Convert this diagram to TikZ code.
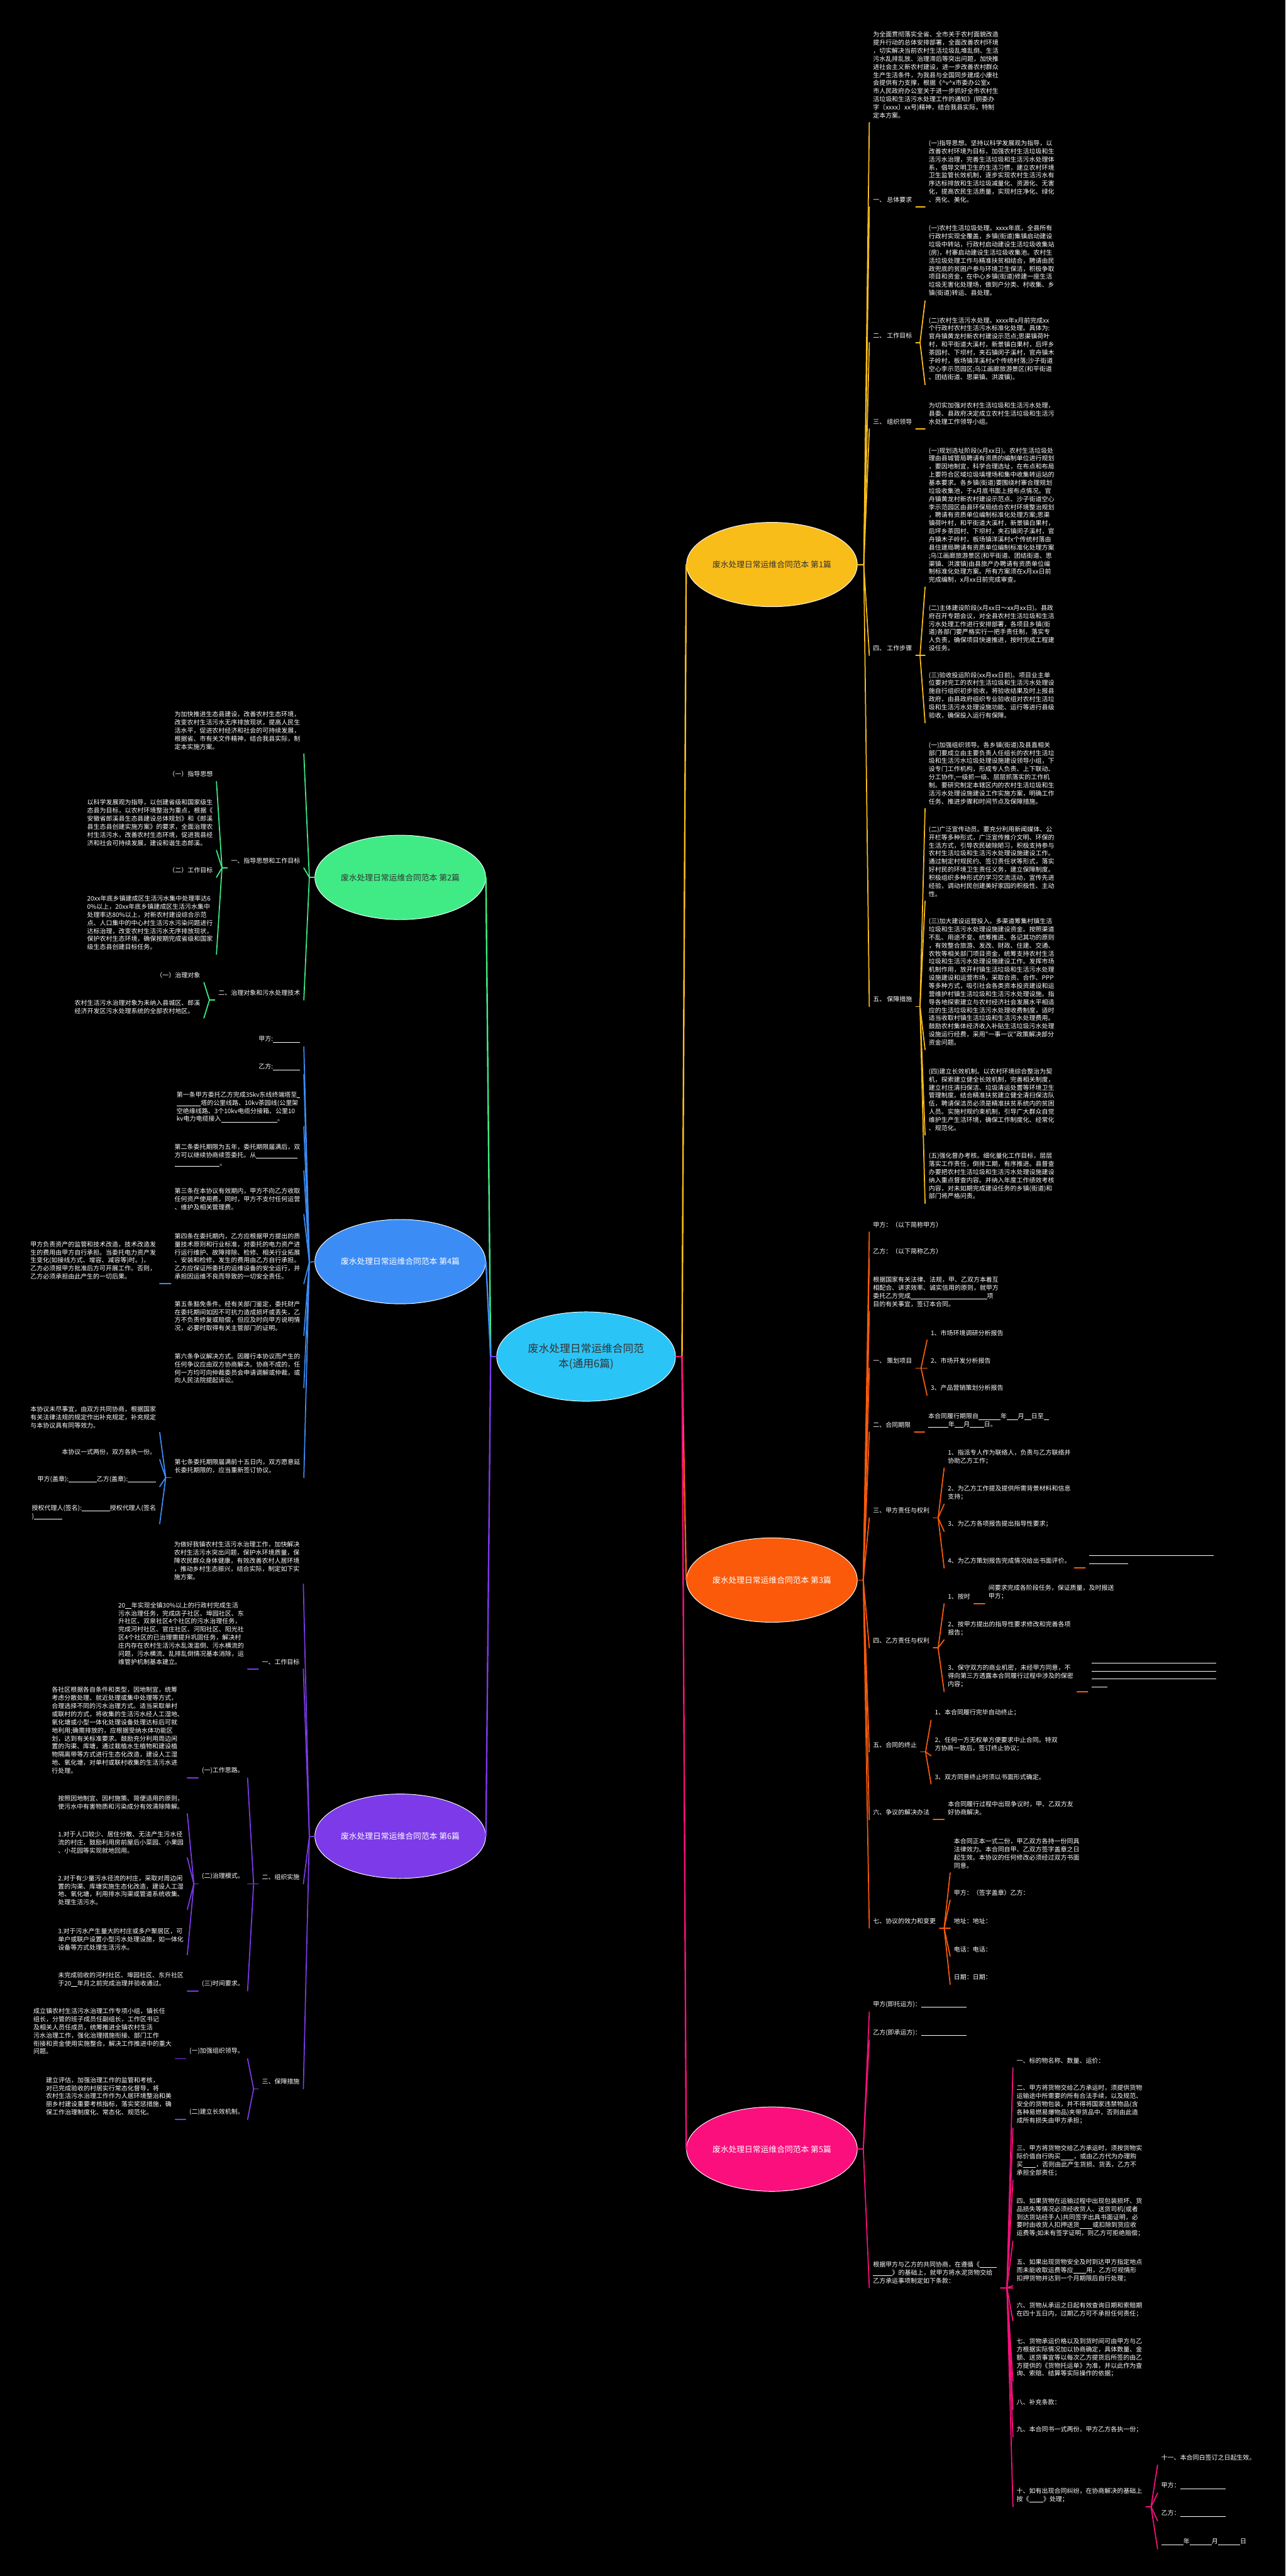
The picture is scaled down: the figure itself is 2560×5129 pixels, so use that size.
\documentclass[tikz,border=0pt]{standalone}
\usepackage{fontspec}
\newfontfamily\cjk{Noto Sans CJK SC}
\usetikzlibrary{shapes.geometric}
\definecolor{cY}{HTML}{F9BD1A}
\definecolor{cO}{HTML}{FA5A0A}
\definecolor{cP}{HTML}{FA0F7D}
\definecolor{cG}{HTML}{40EB85}
\definecolor{cB}{HTML}{3C8CF5}
\definecolor{cV}{HTML}{7C3AE8}
\definecolor{cC}{HTML}{2BC4F7}
\definecolor{dk}{HTML}{333333}
\newcommand\blk[1]{\rule[-1pt]{#1}{0.45pt}}
\tikzset{
 tx/.style={font=\cjk\fontsize{6.25}{8.05}\selectfont, text=white, align=left, inner xsep=3.5pt, inner ysep=4pt},
 bub/.style={ellipse, draw=white, line width=0.6pt, minimum width=170pt, minimum height=84pt, inner sep=0pt, font=\cjk\fontsize{8}{10}\selectfont, align=center},
 ln/.style={line width=1.1pt, line cap=round},
 lnY/.style={ln, draw=cY}, lnO/.style={ln, draw=cO}, lnP/.style={ln, draw=cP},
 lnG/.style={ln, draw=cG}, lnB/.style={ln, draw=cB}, lnV/.style={ln, draw=cV},
}
\begin{document}
\begin{tikzpicture}[x=0.5pt,y=-0.5pt]
\fill[black] (0,0) rectangle (2560,5129);
\useasboundingbox (0,0) rectangle (2560,5129);

% ---------------- center and branches ----------------
\node[ellipse, fill=cC, draw=white, line width=0.6pt, minimum width=178pt, minimum height=89pt, inner sep=0pt, font=\cjk\fontsize{10.5}{15}\selectfont, text=dk, align=center] (ctr) at (1167,2701) {废水处理日常运维合同范\\本(通用6篇)};
\node[bub, fill=cY, text=dk] (b1) at (1537,1124) {废水处理日常运维合同范本 第1篇};
\node[bub, fill=cO, text=white] (b3) at (1537,3146) {废水处理日常运维合同范本 第3篇};
\node[bub, fill=cP, text=white] (b5) at (1537,4279) {废水处理日常运维合同范本 第5篇};
\node[bub, fill=cG, text=dk] (b2) at (797,1747) {废水处理日常运维合同范本 第2篇};
\node[bub, fill=cB, text=white] (b4) at (797,2512) {废水处理日常运维合同范本 第4篇};
\node[bub, fill=cV, text=white] (b6) at (797,3656) {废水处理日常运维合同范本 第6篇};

\coordinate (cR) at (1358,2701);
\coordinate (cL) at (977,2701);
\draw[ln, line width=1.5pt, draw=cP] (ctr.east) -- (cR);
\draw[ln, line width=1.5pt, draw=cV] (ctr.west) -- (cL);
\draw[ln, line width=1.5pt, draw=cY] (cR) -- (b1.west);
\draw[ln, line width=1.5pt, draw=cO] (cR) -- (b3.west);
\draw[ln, line width=1.5pt, draw=cP] (cR) -- (b5.west);
\draw[ln, line width=1.5pt, draw=cG] (cL) -- (b2.east);
\draw[ln, line width=1.5pt, draw=cB] (cL) -- (b4.east);
\draw[ln, line width=1.5pt, draw=cV] (cL) -- (b6.east);

% ================= Branch 1 (yellow) =================
\coordinate (b1f) at (1720,1124);
\draw[lnY] (b1.east) -- (b1f);
\node[tx,anchor=south west] (b1c0) at (1731,244) {为全面贯彻落实全省、全市关于农村面貌改造\\提升行动的总体安排部署，全面改善农村环境\\，切实解决当前农村生活垃圾乱堆乱倒、生活\\污水乱排乱放、治理滞后等突出问题，加快推\\进社会主义新农村建设，进一步改善农村群众\\生产生活条件，为我县与全国同步建成小康社\\会提供有力支撑，根据《\textasciicircum v\textasciicircum x市委办公室x\\市人民政府办公室关于进一步抓好全市农村生\\活垃圾和生活污水处理工作的通知》(铜委办\\字〔xxxx〕xx号)精神，结合我县实际，特制\\定本方案。};
\draw[lnY] (b1f) -- (b1c0.south west);

\node[tx,anchor=south west] (b1c1) at (1731,412) {一、 总体要求};
\draw[lnY] (b1f) -- (b1c1.south west);
\coordinate (b1c1f) at (1842,412);
\draw[lnY] (b1c1.south east) -- (b1c1f);
\node[tx,anchor=south west] (b1c1a) at (b1c1f) {(一)指导思想。坚持以科学发展观为指导，以\\改善农村环境为目标，加强农村生活垃圾和生\\活污水治理，完善生活垃圾和生活污水处理体\\系，倡导文明卫生的生活习惯，建立农村环境\\卫生监管长效机制，逐步实现农村生活污水有\\序达标排放和生活垃圾减量化、资源化、无害\\化，提高农民生活质量，实现村庄净化、绿化\\、亮化、美化。};

\node[tx,anchor=south west] (b1c2) at (1731,682) {二、 工作目标};
\draw[lnY] (b1f) -- (b1c2.south west);
\coordinate (b1c2f) at (1832,682);
\draw[lnY] (b1c2.south east) -- (b1c2f);
\node[tx,anchor=south west] (b1c2a) at (1842,599) {(一)农村生活垃圾处理。xxxx年底，全县所有\\行政村实现全覆盖，乡镇(街道)集镇启动建设\\垃圾中转站，行政村启动建设生活垃圾收集站\\(房)，村寨启动建设生活垃圾收集池。农村生\\活垃圾处理工作与精准扶贫相结合，聘请由民\\政兜底的贫困户参与环境卫生保洁，积极争取\\项目和资金，在中心乡镇(街道)修建一座生活\\垃圾无害化处理场，做到户分类、村收集、乡\\镇(街道)转运、县处理。};
\node[tx,anchor=south west] (b1c2b) at (1842,766) {(二)农村生活污水处理。xxxx年x月前完成xx\\个行政村农村生活污水标准化处理。具体为:\\官舟镇黄龙村新农村建设示范点;思渠镇荷叶\\村，和平街道大溪村，新景镇白果村，后坪乡\\茶园村、下坝村，夹石镇闵子溪村，官舟镇木\\子岭村，板场镇洋溪村x个传统村落;沙子街道\\空心李示范园区;乌江画廊旅游景区(和平街道\\、团结街道、思渠镇、洪渡镇)。};
\draw[lnY] (b1c2f) -- (b1c2a.south west);
\draw[lnY] (b1c2f) -- (b1c2b.south west);

\node[tx,anchor=south west] (b1c3) at (1731,854) {三、 组织领导};
\draw[lnY] (b1f) -- (b1c3.south west);
\coordinate (b1c3f) at (1842,854);
\draw[lnY] (b1c3.south east) -- (b1c3f);
\node[tx,anchor=south west] (b1c3a) at (b1c3f) {为切实加强对农村生活垃圾和生活污水处理，\\县委、县政府决定成立农村生活垃圾和生活污\\水处理工作领导小组。};

\node[tx,anchor=south west] (b1c4) at (1731,1305) {四、 工作步骤};
\draw[lnY] (b1f) -- (b1c4.south west);
\coordinate (b1c4f) at (1832,1305);
\draw[lnY] (b1c4.south east) -- (b1c4f);
\node[tx,anchor=south west] (b1c4a) at (1842,1169) {(一)规划选址阶段(x月xx日)。农村生活垃圾处\\理由县城管局聘请有资质的编制单位进行规划\\，要因地制宜，科学合理选址，在布点和布局\\上要符合区域垃圾填埋场和集中收集转运站的\\基本要求。各乡镇(街道)要围绕村寨合理规划\\垃圾收集池，于x月底书面上报布点情况。官\\舟镇黄龙村新农村建设示范点、沙子街道空心\\李示范园区由县环保局结合农村环境整治规划\\，聘请有资质单位编制标准化处理方案;思渠\\镇荷叶村，和平街道大溪村，新景镇白果村，\\后坪乡茶园村、下坝村，夹石镇闵子溪村，官\\舟镇木子岭村，板场镇洋溪村x个传统村落由\\县住建局聘请有资质单位编制标准化处理方案\\;乌江画廊旅游景区(和平街道、团结街道、思\\渠镇、洪渡镇)由县旅产办聘请有资质单位编\\制标准化处理方案。所有方案须在x月xx日前\\完成编制，x月xx日前完成审查。};
\node[tx,anchor=south west] (b1c4b) at (1842,1305) {(二)主体建设阶段(x月xx日～xx月xx日)。县政\\府召开专题会议，对全县农村生活垃圾和生活\\污水处理工作进行安排部署，各项目乡镇(街\\道)各部门要严格实行一把手责任制，落实专\\人负责，确保项目快速推进，按时完成工程建\\设任务。};
\node[tx,anchor=south west] (b1c4c) at (1842,1439) {(三)验收投运阶段(xx月xx日前)。项目业主单\\位要对完工的农村生活垃圾和生活污水处理设\\施自行组织初步验收，将验收结果及时上报县\\政府，由县政府组织专业验收组对农村生活垃\\圾和生活污水处理设施功能、运行等进行县级\\验收，确保投入运行有保障。};
\draw[lnY] (b1c4f) -- (b1c4a.south west);
\draw[lnY] (b1c4f) -- (b1c4b.south west);
\draw[lnY] (b1c4f) -- (b1c4c.south west);

\node[tx,anchor=south west] (b1c5) at (1731,2004) {五、 保障措施};
\draw[lnY] (b1f) -- (b1c5.south west);
\coordinate (b1c5f) at (1832,2004);
\draw[lnY] (b1c5.south east) -- (b1c5f);
\node[tx,anchor=south west] (b1c5a) at (1842,1610) {(一)加强组织领导。各乡镇(街道)及县直相关\\部门要成立由主要负责人任组长的农村生活垃\\圾和生活污水垃圾处理设施建设领导小组，下\\设专门工作机构，形成专人负责、上下联动、\\分工协作,一级抓一级、层层抓落实的工作机\\制。要研究制定本辖区内的农村生活垃圾和生\\活污水处理设施建设工作实施方案，明确工作\\任务、推进步骤和时间节点及保障措施。};
\node[tx,anchor=south west] (b1c5b) at (1842,1794) {(二)广泛宣传动员。要充分利用新闻媒体、公\\开栏等多种形式，广泛宣传推介文明、环保的\\生活方式，引导农民破除陋习，积极支持参与\\农村生活垃圾和生活污水处理设施建设工作。\\通过制定村规民约、签订责任状等形式，落实\\好村民的环境卫生责任义务，建立保障制度。\\积极组织多种形式的学习交流活动，宣传先进\\经验，调动村民创建美好家园的积极性、主动\\性。};
\node[tx,anchor=south west] (b1c5c) at (1842,2090) {(三)加大建设运营投入。多渠道筹集村镇生活\\垃圾和生活污水处理设施建设资金。按照渠道\\不乱、用途不变、统筹推进、各记其功的原则\\，有效整合旅游、发改、财政、住建、交通、\\农牧等相关部门项目资金，统筹支持农村生活\\垃圾和生活污水处理设施建设工作。发挥市场\\机制作用，放开村镇生活垃圾和生活污水处理\\设施建设和运营市场，采取合资、合作、PPP\\等多种方式，吸引社会各类资本投资建设和运\\营维护村镇生活垃圾和生活污水处理设施。指\\导各地探索建立与农村经济社会发展水平相适\\应的生活垃圾和生活污水处理收费制度，适时\\适当收取村镇生活垃圾和生活污水处理费用。\\鼓励农村集体经济收入补贴生活垃圾污水处理\\设施运行经费，采用"一事一议"政策解决部分\\资金问题。};
\node[tx,anchor=south west] (b1c5d) at (1842,2260) {(四)建立长效机制。以农村环境综合整治为契\\机，探索建立健全长效机制，完善相关制度，\\建立村庄清扫保洁、垃圾清运处置等环境卫生\\管理制度。结合精准扶贫建立健全清扫保洁队\\伍，聘请保洁员必须是精准扶贫系统内的贫困\\人员。实施村规约束机制，引导广大群众自觉\\维护生产生活环境，确保工作制度化、经常化\\、规范化。};
\node[tx,anchor=south west] (b1c5e) at (1842,2396) {(五)强化督办考核。细化量化工作目标，层层\\落实工作责任，倒排工期，有序推进。县督查\\办要把农村生活垃圾和生活污水处理设施建设\\纳入重点督查内容。并纳入年度工作绩效考核\\内容，对未如期完成建设任务的乡镇(街道)和\\部门将严格问责。};
\foreach \n in {a,b,c,d,e} {\draw[lnY] (b1c5f) -- (b1c5\n.south west);}

% ================= Branch 3 (orange) =================
\coordinate (b3f) at (1719,3146);
\draw[lnO] (b3.east) -- (b3f);
\node[tx,anchor=south west] (b3c0) at (1731,2453) {甲方：（以下简称甲方）};
\node[tx,anchor=south west] (b3c1) at (1731,2506) {乙方：（以下简称乙方）};
\node[tx,anchor=south west] (b3c2) at (1731,2611) {根据国家有关法律、法规，甲、乙双方本着互\\相配合、讲求效率、诚实信用的原则，就甲方\\委托乙方完成\blk{76pt}项\\目的有关事宜，签订本合同。};
\node[tx,anchor=south west] (b3c3) at (1731,2724) {一、 策划项目};
\node[tx,anchor=south west] (b3c4) at (1731,2851) {二、合同期限};
\node[tx,anchor=south west] (b3c5) at (1731,3022) {三、甲方责任与权利};
\node[tx,anchor=south west] (b3c6) at (1731,3281) {四、乙方责任与权利};
\node[tx,anchor=south west] (b3c7) at (1731,3488) {五、合同的终止};
\node[tx,anchor=south west] (b3c8) at (1731,3623) {六、争议的解决办法};
\node[tx,anchor=south west] (b3c9) at (1731,3839) {七、协议的效力和变更};
\foreach \n in {0,...,9} {\draw[lnO] (b3f) -- (b3c\n.south west);}

\coordinate (b3c3f) at (1834,2724);
\draw[lnO] (b3c3.south east) -- (1846,2724);
\node[tx,anchor=south west] (b3c3a) at (1846,2668) {1、市场环境调研分析报告};
\node[tx,anchor=south west] (b3c3b) at (1846,2724) {2、市场开发分析报告};
\node[tx,anchor=south west] (b3c3c) at (1846,2778) {3、产品营销策划分析报告};
\foreach \n in {a,b,c} {\draw[lnO] (b3c3f) -- (b3c3\n.south west);}

\coordinate (b3c4f) at (1841,2851);
\draw[lnO] (b3c4.south east) -- (b3c4f);
\node[tx,anchor=south west] (b3c4a) at (b3c4f) {本合同履行期限自\blk{22pt}年\blk{11pt}月\blk{7pt}日至\blk{5pt}\\\blk{20pt}年\blk{9pt}月\blk{14pt}日。};

\coordinate (b3c5f) at (1868,3022);
\draw[lnO] (b3c5.south east) -- (b3c5f);
\node[tx,anchor=south west] (b3c5a) at (1880,2923) {1、指派专人作为联络人，负责与乙方联络并\\协助乙方工作；};
\node[tx,anchor=south west] (b3c5b) at (1880,2995) {2、为乙方工作提及提供所需背景材料和信息\\支持；};
\node[tx,anchor=south west] (b3c5c) at (1880,3049) {3、为乙方各项报告提出指导性要求；};
\node[tx,anchor=south west] (b3c5d) at (1880,3122) {4、为乙方策划报告完成情况给出书面评价。};
\foreach \n in {a,b,c,d} {\draw[lnO] (b3c5f) -- (b3c5\n.south west);}
\coordinate (b3c5df) at (2161,3122);
\draw[lnO] (b3c5d.south east) -- (b3c5df);
\node[tx,anchor=south west] (b3c5d1) at (b3c5df) {\blk{124pt}\\\blk{39pt}};

\coordinate (b3c6f) at (1868,3281);
\draw[lnO] (b3c6.south east) -- (b3c6f);
\node[tx,anchor=south west] (b3c6a) at (1880,3193) {1、按时};
\node[tx,anchor=south west] (b3c6b) at (1880,3265) {2、按甲方提出的指导性要求修改和完善各项\\报告；};
\node[tx,anchor=south west] (b3c6c) at (1880,3368) {3、保守双方的商业机密，未经甲方同意，不\\得向第三方透露本合同履行过程中涉及的保密\\内容；};
\foreach \n in {a,b,c} {\draw[lnO] (b3c6f) -- (b3c6\n.south west);}
\coordinate (b3c6af) at (1961,3193);
\draw[lnO] (b3c6a.south east) -- (b3c6af);
\node[tx,anchor=south west] (b3c6a1) at (b3c6af) {间要求完成各阶段任务，保证质量，及时报送\\甲方；};
\coordinate (b3c6cf) at (2166,3368);
\draw[lnO] (b3c6c.south east) -- (b3c6cf);
\node[tx,anchor=south west] (b3c6c1) at (b3c6cf) {\blk{124pt}\\\blk{124pt}\\\blk{124pt}\\\blk{16pt}};

\coordinate (b3c7f) at (1843,3488);
\draw[lnO] (b3c7.south east) -- (b3c7f);
\node[tx,anchor=south west] (b3c7a) at (1854,3425) {1、本合同履行完毕自动终止；};
\node[tx,anchor=south west] (b3c7b) at (1854,3496) {2、任何一方无权单方便要求中止合同。特双\\方协商一致后，签订终止协议；};
\node[tx,anchor=south west] (b3c7c) at (1854,3552) {3、双方同意终止时须以书面形式确定。};
\foreach \n in {a,b,c} {\draw[lnO] (b3c7f) -- (b3c7\n.south west);}

\coordinate (b3c8f) at (1880,3623);
\draw[lnO] (b3c8.south east) -- (b3c8f);
\node[tx,anchor=south west] (b3c8a) at (b3c8f) {本合同履行过程中出现争议时，甲、乙双方友\\好协商解决。};

\coordinate (b3c9f) at (1880,3839);
\draw[lnO] (b3c9.south east) -- (b3c9f);
\node[tx,anchor=south west] (b3c9a) at (1892,3729) {本合同正本一式二份，甲乙双方各持一份同具\\法律效力。本合同自甲、乙双方签字盖章之日\\起生效。本协议的任何修改必须经过双方书面\\同意。};
\node[tx,anchor=south west] (b3c9b) at (1892,3783) {甲方：（签字盖章）乙方：};
\node[tx,anchor=south west] (b3c9c) at (1892,3839) {地址：地址：};
\node[tx,anchor=south west] (b3c9d) at (1892,3895) {电话：电话：};
\node[tx,anchor=south west] (b3c9e) at (1892,3951) {日期：日期：};
\foreach \n in {a,b,c,d,e} {\draw[lnO] (b3c9f) -- (b3c9\n.south west);}

% ================= Branch 5 (pink) =================
\coordinate (b5f) at (1719,4279);
\draw[lnP] (b5.east) -- (b5f);
\node[tx,anchor=south west] (b5c0) at (1731,4006) {甲方(即托运方)：\blk{45pt}};
\node[tx,anchor=south west] (b5c1) at (1731,4062) {乙方(即承运方)：\blk{45pt}};
\node[tx,anchor=south west] (b5c2) at (1731,4555) {根据甲方与乙方的共同协商，在遵循《\blk{17pt}\\\blk{19pt}》的基础上，就甲方将水泥货物交给\\乙方承运事项制定如下条款：};
\foreach \n in {0,1,2} {\draw[lnP] (b5f) -- (b5c\n.south west);}
\coordinate (b5c2f) at (2005,4555);
\draw[lnP] (b5c2.south east) -- (2017,4555);
\node[tx,anchor=south west] (b5g1) at (2017,4117) {一、标的物名称、数量、运价：};
\node[tx,anchor=south west] (b5g2) at (2017,4237) {二、甲方将货物交给乙方承运时，须提供货物\\运输途中所需要的所有合法手续，以及规范、\\安全的货物包装，并不得将国家违禁物品(含\\各种易燃易爆物品)夹带货品中，否则由此造\\成所有损失由甲方承担；};
\node[tx,anchor=south west] (b5g3) at (2017,4341) {三、甲方将货物交给乙方承运时，须按货物实\\际价值自行购买\blk{13pt}，或由乙方代为办理购\\买\blk{13pt}，否则由此产生货损、货丢，乙方不\\承担全部责任；};
\node[tx,anchor=south west] (b5g4) at (2017,4462) {四、如果货物在运输过程中出现包装损坏、货\\品损失等情况必须经收货人、送货司机(或者\\到达货站经手人)共同签字出具书面证明，必\\要时由收货人扣押送货\blk{13pt}或扣除到货应收\\运费等;如未有签字证明，则乙方可拒绝赔偿；};
\node[tx,anchor=south west] (b5g5) at (2017,4551) {五、如果出现货物安全及时到达甲方指定地点\\而未能收取运费等应\blk{13pt}用，乙方可视情形\\扣押货物并达到一个月期限后自行处理；};
\node[tx,anchor=south west] (b5g6) at (2017,4621) {六、货物从承运之日起有效查询日期和索赔期\\在四十五日内，过期乙方可不承担任何责任；};
\node[tx,anchor=south west] (b5g7) at (2017,4741) {七、货物承运价格以及到货时间可由甲方与乙\\方根据实际情况加以协商确定，具体数量、金\\额、送货事宜等以每次乙方提货后所签的由乙\\方提供的《货物托运单》为准，并以此作为查\\询、索赔、结算等实际操作的依据；};
\node[tx,anchor=south west] (b5g8) at (2017,4797) {八、补充条款：};
\node[tx,anchor=south west] (b5g9) at (2017,4852) {九、本合同书一式两份，甲方乙方各执一份；};
\node[tx,anchor=south west] (b5g10) at (2017,4991) {十、如有出现合同纠纷，在协商解决的基础上\\按《\blk{14pt}》处理；};
\foreach \n in {1,...,10} {\draw[lnP] (b5c2f) -- (b5g\n.south west);}
\coordinate (b5g10f) at (2292,4991);
\draw[lnP] (b5g10.south east) -- (b5g10f);
\node[tx,anchor=south west] (b5h1) at (2305,4908) {十一、本合同白签订之日起生效。};
\node[tx,anchor=south west] (b5h2) at (2305,4964) {甲方：\blk{45pt}};
\node[tx,anchor=south west] (b5h3) at (2305,5019) {乙方：\blk{45pt}};
\node[tx,anchor=south west] (b5h4) at (2305,5075) {\blk{22pt}年\blk{22pt}月\blk{22pt}日};
\foreach \n in {1,...,4} {\draw[lnP] (b5g10f) -- (b5h\n.south west);}

% ================= Branch 2 (green) =================
\coordinate (b2f) at (616,1747);
\draw[lnG] (b2.west) -- (b2f);
\node[tx,anchor=south east] (b2c0) at (605,1501) {为加快推进生态县建设，改善农村生态环境，\\改变农村生活污水无序排放现状，提高人民生\\活水平，促进农村经济和社会的可持续发展，\\根据省、市有关文件精神，结合我县实际，制\\定本实施方案。};
\node[tx,anchor=south east] (b2c1) at (605,1728) {一、指导思想和工作目标};
\node[tx,anchor=south east] (b2c2) at (605,1991) {二、治理对象和污水处理技术};
\foreach \n in {0,1,2} {\draw[lnG] (b2f) -- (b2c\n.south east);}
\coordinate (b2c1f) at (442,1728);
\draw[lnG] (b2c1.south west) -- (b2c1f);
\node[tx,anchor=south east] (b2c1a) at (431,1556) {（一）指导思想};
\node[tx,anchor=south east] (b2c1b) at (431,1693) {以科学发展观为指导，以创建省级和国家级生\\态县为目标，以农村环境整治为重点，根据《\\安徽省郎溪县生态县建设总体规划》和《郎溪\\县生态县创建实施方案》的要求，全面治理农\\村生活污水，改善农村生态环境，促进我县经\\济和社会可持续发展，建设和谐生态郎溪。};
\node[tx,anchor=south east] (b2c1c) at (431,1747) {（二）工作目标};
\node[tx,anchor=south east] (b2c1d) at (431,1900) {20xx年底乡镇建成区生活污水集中处理率达6\\0\%以上，20xx年底乡镇建成区生活污水集中\\处理率达80\%以上，对新农村建设综合示范\\点、人口集中的中心村生活污水污染问题进行\\达标治理，改变农村生活污水无序排放现状，\\保护农村生态环境，确保按期完成省级和国家\\级生态县创建目标任务。};
\foreach \n in {a,b,c,d} {\draw[lnG] (b2c1f) -- (b2c1\n.south east);}
\coordinate (b2c2f) at (417,1991);
\draw[lnG] (b2c2.south west) -- (b2c2f);
\node[tx,anchor=south east] (b2c2a) at (406,1956) {（一）治理对象};
\node[tx,anchor=south east] (b2c2b) at (406,2027) {农村生活污水治理对象为未纳入县城区、郎溪\\经济开发区污水处理系统的全部农村地区。};
\foreach \n in {a,b} {\draw[lnG] (b2c2f) -- (b2c2\n.south east);}

% ================= Branch 4 (blue) =================
\coordinate (b4f) at (616,2513);
\draw[lnB] (b4.west) -- (b4f);
\node[tx,anchor=south east] (b4c0) at (605,2084) {甲方:\blk{27pt}};
\node[tx,anchor=south east] (b4c1) at (605,2139) {乙方:\blk{27pt}};
\node[tx,anchor=south east] (b4c2) at (605,2243) {第一条甲方委托乙方完成35kv东线终端塔至\blk{3pt}\\\blk{24pt}塔的公里线路、10kv茶园线(公里架\\空绝缘线路、3个10kv电缆分接箱、公里10\\kv电力电缆接入\blk{56pt}。};
\node[tx,anchor=south east] (b4c3) at (605,2331) {第二条委托期限为五年，委托期限届满后，双\\方可以继续协商续签委托。从\blk{41pt}\\\blk{45pt}。};
\node[tx,anchor=south east] (b4c4) at (605,2418) {第三条在本协议有效期内，甲方不向乙方收取\\任何资产使用费，同时，甲方不支付任何运营\\、维护及相关管理费。};
\node[tx,anchor=south east] (b4c5) at (605,2556) {第四条在委托期内，乙方应根据甲方提出的质\\量技术原则和行业标准，对委托的电力资产进\\行运行维护、故障排除、检修、相关行业拓展\\、安装和检修，发生的费用由乙方自行承担。\\乙方应保证所委托的运维设备的安全运行，并\\承担因运维不良而导致的一切安全责任。};
\node[tx,anchor=south east] (b4c6) at (605,2659) {第五条豁免条件。经有关部门鉴定，委托财产\\在委托期间如因不可抗力造成损坏或丢失，乙\\方不负责修复或赔偿，但应及时向甲方说明情\\况，必要时取得有关主管部门的证明。};
\node[tx,anchor=south east] (b4c7) at (605,2763) {第六条争议解决方式。因履行本协议而产生的\\任何争议应由双方协商解决。协商不成的，任\\何一方均可向仲裁委员会申请调解或仲裁，或\\向人民法院提起诉讼。};
\node[tx,anchor=south east] (b4c8) at (605,2942) {第七条委托期限届满前十五日内，双方愿意延\\长委托期限的，应当重新签订协议。};
\foreach \n in {0,...,8} {\draw[lnB] (b4f) -- (b4c\n.south east);}
\coordinate (b4c5f) at (318,2556);
\draw[lnB] (b4c5.south west) -- (b4c5f);
\node[tx,anchor=south east] (b4c5a) at (b4c5f) {甲方负责资产的监管和技术改造，技术改造发\\生的费用由甲方自行承担。当委托电力资产发\\生变化(如接线方式、增容、减容等)时。)，\\乙方必须报甲方批准后方可开展工作。否则，\\乙方必须承担由此产生的一切后果。};
\coordinate (b4c8f) at (330,2942);
\draw[lnB] (b4c8.south west) -- (b4c8f);
\node[tx,anchor=south east] (b4c8a) at (318,2852) {本协议未尽事宜，由双方共同协商，根据国家\\有关法律法规的规定作出补充规定，补充规定\\与本协议具有同等效力。};
\node[tx,anchor=south east] (b4c8b) at (318,2906) {本协议一式两份，双方各执一份。};
\node[tx,anchor=south east] (b4c8c) at (318,2960) {甲方(盖章):\blk{28pt}乙方(盖章):\blk{28pt}};
\node[tx,anchor=south east] (b4c8d) at (318,3034) {授权代理人(签名):\blk{28pt}授权代理人(签名\\)\blk{28pt}};
\foreach \n in {a,b,c,d} {\draw[lnB] (b4c8f) -- (b4c8\n.south east);}

% ================= Branch 6 (purple) =================
\coordinate (b6f) at (616,3657);
\draw[lnV] (b6.west) -- (b6f);
\node[tx,anchor=south east] (b6c0) at (604,3154) {为做好我镇农村生活污水治理工作，加快解决\\农村生活污水突出问题，保护水环境质量，保\\障农民群众身体健康，有效改善农村人居环境\\，推动乡村生态振兴，结合实际，制定如下实\\施方案。};
\node[tx,anchor=south east] (b6c1) at (604,3323) {一、工作目标};
\node[tx,anchor=south east] (b6c2) at (604,3751) {二、组织实施};
\node[tx,anchor=south east] (b6c3) at (604,4159) {三、保障措施};
\foreach \n in {0,...,3} {\draw[lnV] (b6f) -- (b6c\n.south east);}
\coordinate (b6c1f) at (493,3323);
\draw[lnV] (b6c1.south west) -- (b6c1f);
\node[tx,anchor=south east] (b6c1a) at (b6c1f) {20\blk{6pt}年实现全镇30\%以上的行政村完成生活\\污水治理任务，完成店子社区、埠园社区、东\\升社区、双泉社区4个社区的污水治理任务，\\完成河村社区、官庄社区、河阳社区、阳光社\\区4个社区的已治理需提升巩固任务，解决村\\庄内存在农村生活污水乱泼滥倒、污水横流的\\问题，污水横流、乱排乱倒情况基本消除，运\\维管护机制基本建立。};
\coordinate (b6c2f) at (505,3751);
\draw[lnV] (b6c2.south west) -- (b6c2f);
\node[tx,anchor=south east] (b6c2a) at (493,3540) {(一)工作思路。};
\node[tx,anchor=south east] (b6c2b) at (493,3751) {(二)治理模式。};
\node[tx,anchor=south east] (b6c2c) at (493,3964) {(三)时间要求。};
\foreach \n in {a,b,c} {\draw[lnV] (b6c2f) -- (b6c2\n.south east);}
\coordinate (b6c2af) at (373,3540);
\draw[lnV] (b6c2a.south west) -- (b6c2af);
\node[tx,anchor=south east] (b6c2a1) at (b6c2af) {各社区根据各自条件和类型，因地制宜，统筹\\考虑分散处理、就近处理或集中处理等方式，\\合理选择不同的污水治理方式。适当采取单村\\或联村的方式，将收集的生活污水经人工湿地、\\氧化塘或小型一体化处理设备处理达标后可就\\地利用;确需排放的，应根据受纳水体功能区\\划，达到有关标准要求。鼓励充分利用周边闲\\置的沟渠、库塘，通过栽植水生植物和建设植\\物隔离带等方式进行生态化改造，建设人工湿\\地、氧化塘，对单村或联村收集的生活污水进\\行处理。};
\coordinate (b6c2bf) at (386,3751);
\draw[lnV] (b6c2b.south west) -- (b6c2bf);
\node[tx,anchor=south east] (b6c2b1) at (373,3611) {按照因地制宜、因村施策、简便适用的原则，\\使污水中有害物质和污染成分有效清除降解。};
\node[tx,anchor=south east] (b6c2b2) at (373,3699) {1.对于人口较少、居住分散、无法产生污水径\\流的村庄，鼓励利用房前屋后小菜园、小果园\\、小花园等实现就地回用。};
\node[tx,anchor=south east] (b6c2b3) at (373,3802) {2.对于有少量污水径流的村庄，采取对周边闲\\置的沟渠、库塘实施生态化改造，建设人工湿\\地、氧化塘，利用排水沟渠或管道系统收集、\\处理生活污水。};
\node[tx,anchor=south east] (b6c2b4) at (373,3892) {3.对于污水产生量大的村庄或多户聚居区，可\\单户或联户设置小型污水处理设施，如一体化\\设备等方式处理生活污水。};
\foreach \n in {1,...,4} {\draw[lnV] (b6c2bf) -- (b6c2b\n.south east);}
\coordinate (b6c2cf) at (373,3964);
\draw[lnV] (b6c2c.south west) -- (b6c2cf);
\node[tx,anchor=south east] (b6c2c1) at (b6c2cf) {未完成验收的河村社区、埠园社区、东升社区\\于20\blk{6pt}年月之前完成治理并验收通过。};
\coordinate (b6c3f) at (505,4159);
\draw[lnV] (b6c3.south west) -- (b6c3f);
\node[tx,anchor=south east] (b6c3a) at (493,4099) {(一)加强组织领导。};
\node[tx,anchor=south east] (b6c3b) at (493,4220) {(二)建立长效机制。};
\foreach \n in {a,b} {\draw[lnV] (b6c3f) -- (b6c3\n.south east);}
\coordinate (b6c3af) at (349,4099);
\draw[lnV] (b6c3a.south west) -- (b6c3af);
\node[tx,anchor=south east] (b6c3a1) at (b6c3af) {成立镇农村生活污水治理工作专项小组，镇长任\\组长，分管的班子成员任副组长，工作区书记\\及相关人员任成员，统筹推进全镇农村生活\\污水治理工作，强化治理措施衔接、部门工作\\衔接和资金使用实施整合，解决工作推进中的重大\\问题。};
\coordinate (b6c3bf) at (349,4220);
\draw[lnV] (b6c3b.south west) -- (b6c3bf);
\node[tx,anchor=south east] (b6c3b1) at (b6c3bf) {建立评估，加强治理工作的监管和考核，\\对已完成验收的村居实行常态化督导，将\\农村生活污水治理工作作为人居环境整治和美\\丽乡村建设重要考核指标，落实奖惩措施，确\\保工作治理制度化、常态化、规范化。};
\end{tikzpicture}
\end{document}
